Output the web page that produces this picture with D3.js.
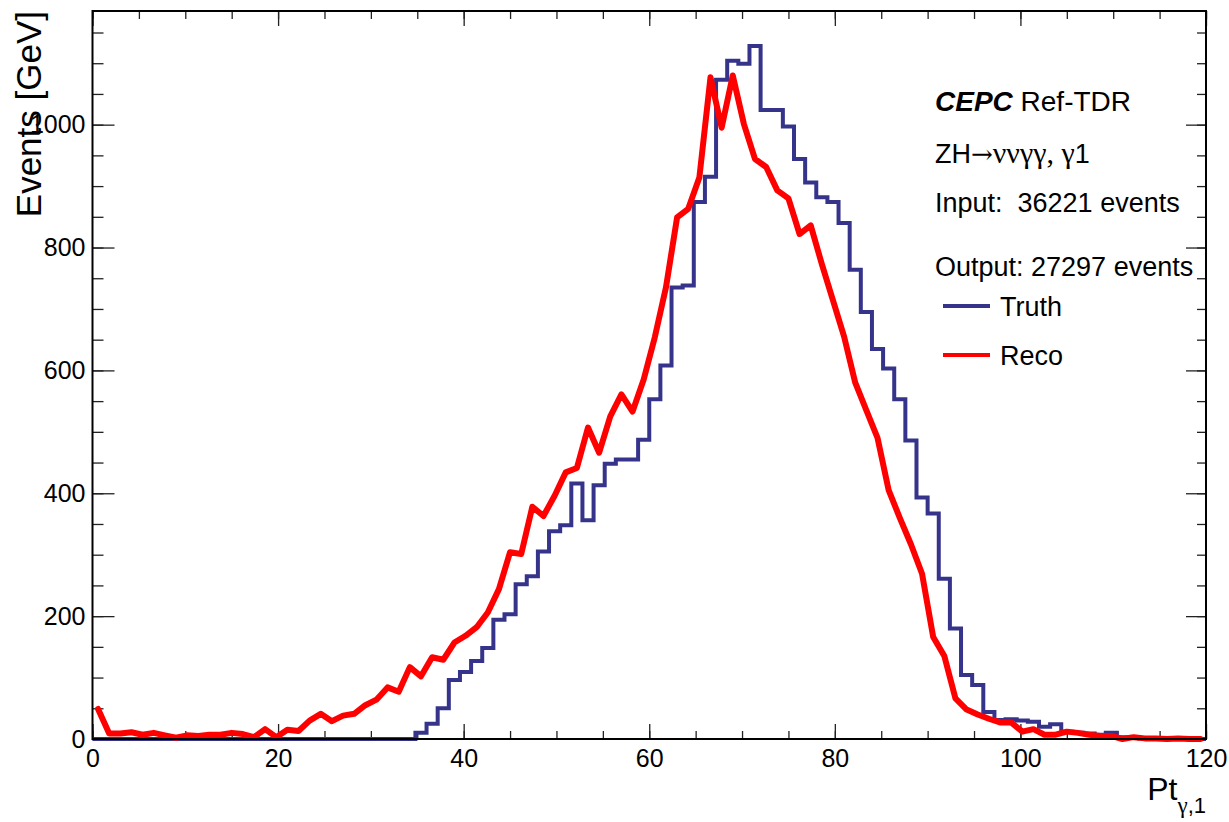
<!DOCTYPE html>
<html>
<head>
<meta charset="utf-8">
<script src="https://cdn.jsdelivr.net/npm/d3@7"></script>
<style>
  body { margin: 0; background: #fff; }
  text { font-family: "Liberation Sans", Arial, sans-serif; fill: #000; white-space: pre; }
  .serif { font-family: "Liberation Serif", "Times New Roman", serif; }
  .arrow { font-family: "DejaVu Serif", serif; }
</style>
</head>
<body>
<div id="vis"></div>
<script>
// histogram settings: 100 bins from 0 to 120
const nBins = 100;
const xMin = 0, xMax = 120;

// truth counts per bin
const truth = [
  0, 0, 0, 0, 0, 0, 0, 0, 0, 0,
  0, 0, 0, 0, 0, 0, 0, 0, 0, 0,
  0, 0, 0, 0, 0, 0, 0, 0, 0, 10,
  25, 50, 96, 109, 127, 148, 194, 203, 252, 265,
  305, 338, 348, 416, 356, 413, 448, 455, 455, 487,
  553, 608, 735, 738, 874, 915, 1073, 1104, 1099, 1128,
  1024, 1024, 997, 944, 906, 882, 874, 840, 764, 695,
  635, 603, 553, 486, 393, 367, 261, 180, 104, 88,
  44, 31, 32, 30, 28, 20, 24, 12, 10, 9,
  7, 10, 3, 2, 1, 1, 0, 0, 0, 0
];

// reco counts per bin
const reco = [
  49, 9, 9, 11, 7, 10, 6, 2, 6, 5,
  7, 7, 10, 8, 3, 16, 3, 15, 13, 30,
  41, 29, 38, 41, 55, 64, 84, 77, 117, 102,
  133, 129, 157, 168, 182, 206, 244, 304, 301, 378,
  363, 396, 434, 441, 507, 466, 525, 561, 533, 585,
  654, 735, 849, 863, 914, 1077, 995, 1080, 1001, 944,
  931, 893, 880, 822, 836, 773, 714, 655, 580, 535,
  490, 405, 360, 317, 269, 166, 135, 66, 48, 40,
  33, 27, 27, 12, 16, 7, 7, 12, 10, 7,
  5, 5, 0, 3, 1, 1, 0, 1, 0, 0
];

const xTicks = [0, 20, 40, 60, 80, 100, 120];
const xMinorTicks = d3.range(0, 121, 5);
const yTicks = [0, 200, 400, 600, 800, 1000];
const yMinorTicks = d3.range(0, 1151, 50);
const yMax = 1185;

const series = [
  {name: 'Truth', color: '#36348a'},
  {name: 'Reco', color: '#ff0000'}
];

const infoLines = ['Input:  36221 events', 'Output: 27297 events'];

// frame
let W = 1229, H = 822;
let frame = {left: 92.5, right: 1206, top: 11, bottom: 739};

let svg = d3.select('#vis')
  .append('svg')
  .attr('width', W)
  .attr('height', H)
  .style('background-color', 'white');

let x = d3.scaleLinear().domain([xMin, xMax]).range([frame.left, frame.right]);
let y = d3.scaleLinear().domain([0, yMax]).range([frame.bottom, frame.top]);
let bw = (xMax - xMin) / nBins;

// ticks, ROOT style (pointing inwards, on all four sides)
function tickLayer(axis, tr) {
  let g = svg.append('g').attr('transform', tr).call(axis);
  g.select('.domain').remove();
  g.selectAll('.tick line').attr('stroke', '#222').attr('stroke-width', 1.3);
  return g;
}

tickLayer(d3.axisBottom(x).tickValues(xMinorTicks).tickSize(-8).tickFormat(''), `translate(0,${frame.bottom})`);
let xAxis = tickLayer(d3.axisBottom(x).tickValues(xTicks).tickSize(-15).tickPadding(10).tickFormat(d3.format('d')), `translate(0,${frame.bottom})`);
xAxis.selectAll('text').style('font-size', '25px').attr('fill', '#000');

tickLayer(d3.axisTop(x).tickValues(xMinorTicks).tickSize(-8).tickFormat(''), `translate(0,${frame.top})`);
tickLayer(d3.axisTop(x).tickValues(xTicks).tickSize(-15).tickFormat(''), `translate(0,${frame.top})`);

tickLayer(d3.axisLeft(y).tickValues(yMinorTicks).tickSize(-11).tickFormat(''), `translate(${frame.left},0)`);
let yAxis = tickLayer(d3.axisLeft(y).tickValues(yTicks).tickSize(-22).tickPadding(7).tickFormat(d3.format('d')), `translate(${frame.left},0)`);
yAxis.selectAll('text').style('font-size', '25px').attr('fill', '#000');

tickLayer(d3.axisRight(y).tickValues(yMinorTicks).tickSize(-9).tickFormat(''), `translate(${frame.right},0)`);
tickLayer(d3.axisRight(y).tickValues(yTicks).tickSize(-20).tickFormat(''), `translate(${frame.right},0)`);

// truth: step histogram outline
let steps = [[xMin, 0]];
truth.forEach((v, i) => {
  steps.push([xMin + i * bw, v]);
  steps.push([xMin + (i + 1) * bw, v]);
});
steps.push([xMax, 0]);

svg.append('path')
  .datum(steps)
  .attr('fill', 'none')
  .attr('stroke', series[0].color)
  .attr('stroke-width', 4)
  .attr('stroke-linejoin', 'miter')
  .attr('d', d3.line().x(d => x(d[0])).y(d => y(d[1])));

// reco: line through bin centres
svg.append('path')
  .datum(reco)
  .attr('fill', 'none')
  .attr('stroke', series[1].color)
  .attr('stroke-width', 6)
  .attr('stroke-linejoin', 'round')
  .attr('stroke-linecap', 'round')
  .attr('d', d3.line().x((d, i) => x(xMin + (i + 0.5) * bw)).y(d => y(d)));

// frame
svg.append('rect')
  .attr('x', frame.left).attr('y', frame.top)
  .attr('width', frame.right - frame.left)
  .attr('height', frame.bottom - frame.top)
  .attr('fill', 'none')
  .attr('stroke', '#000')
  .attr('stroke-width', 2);

// axis titles
svg.append('text')
  .attr('transform', `translate(41,${frame.top}) rotate(-90)`)
  .attr('text-anchor', 'end')
  .style('font-size', '35px')
  .text('Events [GeV]');

let xt = svg.append('text')
  .attr('x', frame.right)
  .attr('y', 800)
  .attr('text-anchor', 'end')
  .style('font-size', '32px');
xt.append('tspan').text('Pt');
xt.append('tspan').attr('class', 'serif').attr('dy', 13).style('font-size', '23px').text('γ');
xt.append('tspan').style('font-size', '22px').text(',1');

// text box
let t1 = svg.append('text').attr('x', 935).attr('y', 111).style('font-size', '28px');
t1.append('tspan').style('font-weight', 'bold').style('font-style', 'italic').text('CEPC');
t1.append('tspan').text(' Ref-TDR');

let t2 = svg.append('text').attr('x', 935).attr('y', 163).style('font-size', '27px');
t2.append('tspan').text('ZH');
t2.append('tspan').attr('class', 'arrow').style('font-size', '26px').text('→');
t2.append('tspan').attr('class', 'serif').style('font-size', '30px').text('ννγγ, γ');
t2.append('tspan').text('1');

svg.selectAll('.info')
  .data(infoLines)
  .enter()
  .append('text')
  .attr('class', 'info')
  .attr('x', 935)
  .attr('y', (d, i) => [212, 276][i])
  .style('font-size', '27px')
  .text(d => d);

// legend
let leg = svg.selectAll('.leg')
  .data(series)
  .enter()
  .append('g')
  .attr('class', 'leg')
  .attr('transform', (d, i) => `translate(943,${306 + i * 49})`);

leg.append('line')
  .attr('x1', 0).attr('x2', 47)
  .attr('stroke', d => d.color)
  .attr('stroke-width', 4);

leg.append('text')
  .attr('x', 57)
  .attr('y', 10)
  .style('font-size', '27px')
  .text(d => d.name);
</script>
</body>
</html>
